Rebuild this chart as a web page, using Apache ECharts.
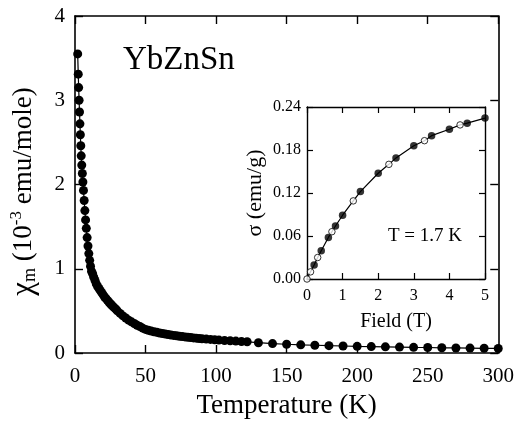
<!DOCTYPE html>
<html>
<head>
<meta charset="utf-8">
<script src="https://cdn.jsdelivr.net/npm/echarts@6/dist/echarts.min.js"></script>
<style>
  html, body { margin: 0; padding: 0; background: #fff; }
  #chart { width: 517px; height: 426px; }
</style>
</head>
<body>
<div id="chart"></div>
<script>
// ==============================
// data
// ==============================

// main panel: chi_m vs T
const tempK = [
  1.9, 2.3, 2.6, 2.9, 3.2, 3.5, 3.8, 4.1, 4.4, 4.8, 5.2, 5.6, 6.0, 6.5, 7.0, 7.5, 8.0, 8.6, 9.2, 9.8,
  10.4, 11.0, 11.7, 12.5, 13.3, 14.2, 15.1, 16, 17, 18, 19, 20, 21, 22, 23, 24, 25, 26, 27, 28, 29,
  30, 32, 34, 36, 38, 40, 42, 44, 46, 48, 50, 52, 54, 56, 58, 60, 62, 64, 66, 68, 70, 72, 74, 76, 78,
  80, 82, 84, 86, 88, 90, 93, 96, 99, 102, 106, 110, 114, 118, 122,
  130, 140, 150, 160, 170, 180, 190, 200, 210, 220, 230, 240, 250, 260, 270, 280, 290, 300
];
const chiM = [
  3.55, 3.31, 3.15, 3.00, 2.86, 2.72, 2.59, 2.46, 2.34, 2.23, 2.13, 2.03, 1.93, 1.81, 1.69, 1.58, 1.48, 1.37, 1.27, 1.18,
  1.10, 1.03, 0.97, 0.94, 0.90, 0.86, 0.82, 0.79, 0.765, 0.74, 0.715, 0.69, 0.665, 0.645, 0.625, 0.605, 0.585, 0.57, 0.55, 0.535, 0.52,
  0.50, 0.47, 0.44, 0.415, 0.39, 0.37, 0.35, 0.33, 0.315, 0.295, 0.28, 0.27, 0.26, 0.252, 0.245, 0.238, 0.231, 0.225, 0.219, 0.214, 0.209, 0.204, 0.199, 0.195, 0.191,
  0.187, 0.183, 0.179, 0.176, 0.172, 0.169, 0.165, 0.161, 0.157, 0.153, 0.149, 0.145, 0.141, 0.137, 0.133,
  0.122, 0.112, 0.104, 0.097, 0.092, 0.087, 0.083, 0.079, 0.076, 0.073, 0.070, 0.067, 0.065, 0.062, 0.060, 0.058, 0.056, 0.054
];

// inset: sigma vs field at 1.7 K (filled and open symbols)
const fieldFilled = [0.2, 0.4, 0.6, 0.8, 1.0, 1.5, 2.0, 2.5, 3.0, 3.5, 4.0, 4.5, 5.0];
const sigmaFilled = [0.0195, 0.0395, 0.058, 0.074, 0.089, 0.122, 0.1475, 0.169, 0.186, 0.200, 0.209, 0.2175, 0.2245];
const fieldOpen = [0, 0.1, 0.3, 0.7, 1.3, 2.3, 3.3, 4.3];
const sigmaOpen = [0, 0.010, 0.030, 0.066, 0.109, 0.160, 0.193, 0.215];

const xTicksMain = [0, 50, 100, 150, 200, 250, 300];
const yTicksMain = [0, 1, 2, 3, 4];
const xTicksInset = [0, 1, 2, 3, 4, 5];
const yTicksInset = [0, 0.06, 0.12, 0.18, 0.24];

// ==============================
// helpers
// ==============================

const FONT = 'Liberation Serif';
const zip = (a, b) => a.map((v, i) => [v, b[i]]);

const insetAll = zip(fieldFilled, sigmaFilled)
  .concat(zip(fieldOpen, sigmaOpen))
  .sort((p, q) => p[0] - q[0]);

function axisBase(gridIndex, ticks, opts) {
  return Object.assign({
    type: 'value',
    gridIndex: gridIndex,
    min: ticks[0],
    max: ticks[ticks.length - 1],
    interval: ticks[1] - ticks[0],
    axisLine: { show: true, onZero: false, lineStyle: { color: '#000', width: 1.6 } },
    axisTick: { show: true, inside: true, length: 8, lineStyle: { color: '#000', width: 1.4 } },
    splitLine: { show: false },
    axisLabel: { show: false }
  }, opts);
}

const insetTick = { show: true, inside: true, length: 6, lineStyle: { color: '#000', width: 1.2 } };
const insetLine = { show: true, onZero: false, lineStyle: { color: '#000', width: 1.4 } };

const chart = echarts.init(document.getElementById('chart'));

chart.setOption({
  backgroundColor: '#fff',
  animation: false,
  grid: [
    { left: 73, right: 16, top: 16, bottom: 73 },
    { left: 307, top: 107, width: 178, height: 172 }
  ],
  xAxis: [
    axisBase(0, xTicksMain, {
      position: 'bottom',
      axisLabel: { show: true, color: '#000', fontFamily: FONT, fontSize: 21, margin: 13 },
      name: 'Temperature (K)',
      nameLocation: 'middle',
      nameGap: 39,
      nameTextStyle: { color: '#000', fontFamily: FONT, fontSize: 27 }
    }),
    axisBase(0, xTicksMain, { position: 'top' }),
    axisBase(1, xTicksInset, {
      position: 'bottom',
      axisTick: insetTick,
      axisLine: insetLine,
      axisLabel: { show: true, color: '#000', fontFamily: FONT, fontSize: 16, margin: 9 },
      name: 'Field (T)',
      nameLocation: 'middle',
      nameGap: 33,
      nameTextStyle: { color: '#000', fontFamily: FONT, fontSize: 20 }
    }),
    axisBase(1, xTicksInset, { position: 'top', axisTick: insetTick, axisLine: insetLine })
  ],
  yAxis: [
    axisBase(0, yTicksMain, {
      position: 'left',
      axisLabel: { show: true, color: '#000', fontFamily: FONT, fontSize: 21, margin: 10 },
      name: '{chi|χ}{sub|m}{n| (10}{sup|-3}{n| emu/mole)}',
      nameLocation: 'middle',
      nameGap: 36,
      nameTextStyle: {
        color: '#000',
        fontFamily: FONT,
        padding: [0, 14, 0, 0],
        rich: {
          chi: { fontFamily: FONT, fontSize: 31, color: '#000', verticalAlign: 'middle' },
          sub: { fontFamily: FONT, fontSize: 18, color: '#000', verticalAlign: 'bottom', lineHeight: 18 },
          sup: { fontFamily: FONT, fontSize: 17, color: '#000', verticalAlign: 'top', lineHeight: 17 },
          n: { fontFamily: FONT, fontSize: 27, color: '#000', verticalAlign: 'middle' }
        }
      }
    }),
    axisBase(0, yTicksMain, { position: 'right' }),
    axisBase(1, yTicksInset, {
      position: 'left',
      axisTick: insetTick,
      axisLine: insetLine,
      axisLabel: {
        show: true, color: '#000', fontFamily: FONT, fontSize: 16, margin: 6,
        formatter: v => v.toFixed(2)
      },
      name: 'σ (emu/g)',
      nameLocation: 'middle',
      nameGap: 41,
      nameTextStyle: { color: '#000', fontFamily: FONT, fontSize: 22 }
    }),
    axisBase(1, yTicksInset, { position: 'right', axisTick: insetTick, axisLine: insetLine })
  ],
  series: [
    {
      type: 'line',
      xAxisIndex: 0, yAxisIndex: 0,
      data: zip(tempK, chiM),
      showSymbol: true,
      symbol: 'circle',
      symbolSize: 9,
      itemStyle: { color: '#000' },
      lineStyle: { color: '#000', width: 1.2 },
      clip: false
    },
    {
      type: 'line',
      xAxisIndex: 2, yAxisIndex: 2,
      data: insetAll,
      showSymbol: false,
      lineStyle: { color: '#000', width: 1.2 },
      z: 2
    },
    {
      type: 'scatter',
      xAxisIndex: 2, yAxisIndex: 2,
      data: zip(fieldFilled, sigmaFilled),
      symbol: 'circle',
      symbolSize: 7.5,
      itemStyle: { color: '#000' },
      clip: false,
      z: 3
    },
    {
      type: 'scatter',
      xAxisIndex: 2, yAxisIndex: 2,
      data: zip(fieldOpen, sigmaOpen),
      symbol: 'circle',
      symbolSize: 6.5,
      itemStyle: { color: '#fff', borderColor: '#000', borderWidth: 1 },
      clip: false,
      z: 3
    }
  ],
  graphic: [
    {
      type: 'text',
      left: 123,
      top: 44,
      style: { text: 'YbZnSn', fill: '#000', font: '33px "Liberation Serif"' }
    },
    {
      type: 'text',
      left: 388,
      top: 227,
      style: { text: 'T = 1.7 K', fill: '#000', font: '19px "Liberation Serif"' }
    }
  ]
});
</script>
</body>
</html>
